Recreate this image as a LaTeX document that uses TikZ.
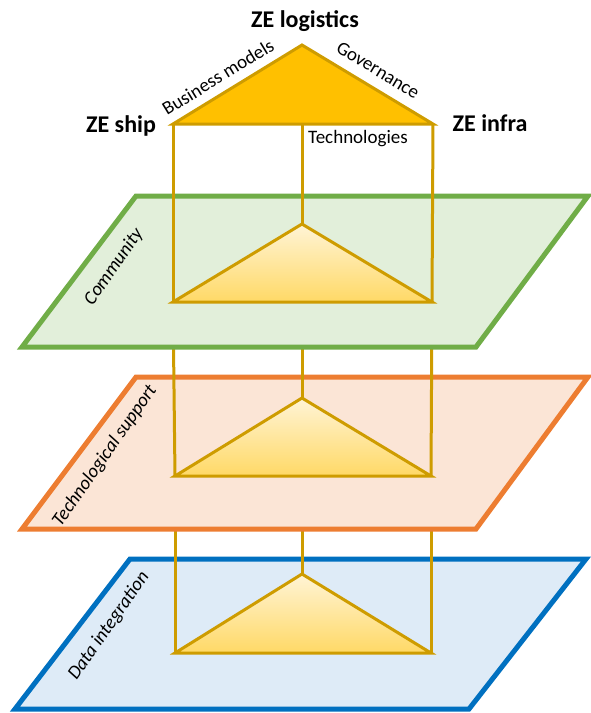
\documentclass[tikz,border=0pt]{standalone}
\usepackage{fontspec}
\setmainfont{Carlito}
\begin{document}
\begin{tikzpicture}[x=1pt,y=-1pt,
  gold/.style={draw=goldline,line width=3pt,line join=miter},
  plane/.style={line width=5pt,line join=miter},
  tri/.style={gold,top color=triTop,bottom color=triBot},
  big/.style={font=\bfseries\fontsize{24}{28}\selectfont,inner sep=0pt},
  small/.style={font=\fontsize{19}{23}\selectfont,inner sep=0pt},
  lay/.style={font=\itshape\fontsize{19}{23}\selectfont,inner sep=0pt}]
\definecolor{goldline}{RGB}{206,156,0}
\definecolor{goldfill}{RGB}{255,192,0}
\definecolor{triTop}{RGB}{255,244,214}
\definecolor{triBot}{RGB}{255,217,102}
\definecolor{gBorder}{RGB}{112,173,71}
\definecolor{gFill}{RGB}{226,239,218}
\definecolor{oBorder}{RGB}{237,125,49}
\definecolor{oFill}{RGB}{251,229,214}
\definecolor{bBorder}{RGB}{0,112,192}
\definecolor{bFill}{RGB}{222,235,247}
\useasboundingbox (0,0) rectangle (591,713);
% coordinates
\coordinate (T0a) at (302,45);  \coordinate (T0l) at (173,124); \coordinate (T0r) at (433,124); \coordinate (M0) at (302,124);
\coordinate (T1a) at (302,224); \coordinate (T1l) at (173,302); \coordinate (T1r) at (432,302); \coordinate (M1) at (302,302);
\coordinate (T2a) at (302,398); \coordinate (T2l) at (175,476); \coordinate (T2r) at (431,476); \coordinate (M2) at (302,476);
\coordinate (T3a) at (302,574); \coordinate (T3l) at (175,653); \coordinate (T3r) at (431,653);
% data plane
\draw[plane,draw=bBorder,fill=bFill] (130,559) -- (586,559) -- (469,709) -- (15,709) -- cycle;
\draw[tri] (T3l) -- (T3a) -- (T3r) -- cycle;
\draw[gold] (T3l) -- (T2l);
\draw[gold] (T3a) -- (M2);
\draw[gold] (T3r) -- (T2r);
% tech plane
\draw[plane,draw=oBorder,fill=oFill] (136,377) -- (588,377) -- (476,529) -- (22,529) -- cycle;
\draw[tri] (T2l) -- (T2a) -- (T2r) -- cycle;
\draw[gold] (T2l) -- (T1l);
\draw[gold] (T2a) -- (M1);
\draw[gold] (T2r) -- (T1r);
% community plane
\draw[plane,draw=gBorder,fill=gFill] (136,196) -- (588,196) -- (476,347) -- (22,347) -- cycle;
\draw[tri] (T1l) -- (T1a) -- (T1r) -- cycle;
\draw[gold] (T1l) -- (T0l);
\draw[gold] (T1a) -- (M0);
\draw[gold] (T1r) -- (T0r);
% top triangle
\draw[gold,fill=goldfill] (T0l) -- (T0a) -- (T0r) -- cycle;
% labels
\node[big] (zelog) at (305,21) {ZE logistics};
\node[big] (zeship) at (121,126) {ZE ship};
\node[big] (zeinfra) at (490,123) {ZE infra};
\node[small] (tech) at (358,139) {Technologies};
\node[small,rotate=31.5] (bm) at (218,77) {Business models};
\node[small,rotate=-31] (gov) at (378,70) {Governance};
\node[lay,rotate=55] (comm) at (114,267) {Community};
\node[lay,rotate=55] (tsup) at (105,456) {Technological support};
\node[lay,rotate=55] (dint) at (109,626) {Data integration};
\end{tikzpicture}
\end{document}
